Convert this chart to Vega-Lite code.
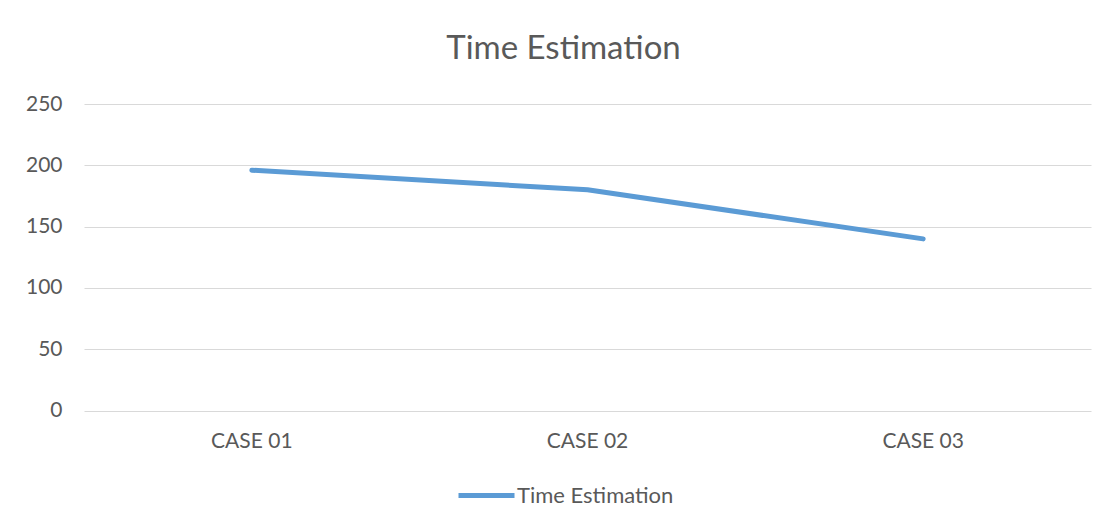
{
  "$schema": "https://vega.github.io/schema/vega-lite/v6.json",
  "autosize": {"type": "none"},
  "padding": {"left": 84, "top": 104, "right": 18, "bottom": 121},
  "width": 1007,
  "height": 306.5,
  "background": "white",
  "title": {
    "text": "Time Estimation",
    "font": "Lato",
    "fontSize": 33,
    "fontWeight": "normal",
    "color": "#595959",
    "anchor": "middle",
    "frame": "group",
    "dx": -24,
    "baseline": "alphabetic",
    "offset": 1
  },
  "data": {
    "values": [
      {"case": "CASE 01", "value": 196, "series": "Time Estimation"},
      {"case": "CASE 02", "value": 180, "series": "Time Estimation"},
      {"case": "CASE 03", "value": 140, "series": "Time Estimation"}
    ]
  },
  "mark": {"type": "line", "strokeWidth": 5, "strokeCap": "round", "strokeJoin": "round"},
  "encoding": {
    "x": {
      "field": "case",
      "type": "ordinal",
      "scale": {"type": "band", "paddingInner": 0, "paddingOuter": 0},
      "axis": {
        "title": null,
        "domain": false,
        "ticks": false,
        "grid": false,
        "labelAngle": 0,
        "labelFont": "Lato",
        "labelFontSize": 21,
        "labelColor": "#595959",
        "labelBaseline": "middle",
        "labelPadding": 31
      }
    },
    "y": {
      "field": "value",
      "type": "quantitative",
      "scale": {"domain": [0, 250], "nice": false},
      "axis": {
        "title": null,
        "values": [0, 50, 100, 150, 200, 250],
        "domain": false,
        "ticks": false,
        "grid": true,
        "gridColor": "#d9d9d9",
        "gridWidth": 1.2,
        "labelFont": "Lato",
        "labelFontSize": 21,
        "labelColor": "#595959",
        "labelPadding": 22
      }
    },
    "color": {
      "field": "series",
      "type": "nominal",
      "scale": {"range": ["#5B9BD5"]},
      "legend": {
        "title": null,
        "orient": "none",
        "legendX": 372,
        "legendY": 361,
        "symbolType": "stroke",
        "symbolSize": 3136,
        "symbolStrokeWidth": 5,
        "labelFont": "Lato",
        "labelFontSize": 22,
        "labelColor": "#595959",
        "labelOffset": 0,
        "padding": 0
      }
    }
  },
  "config": {"view": {"stroke": null}}
}
